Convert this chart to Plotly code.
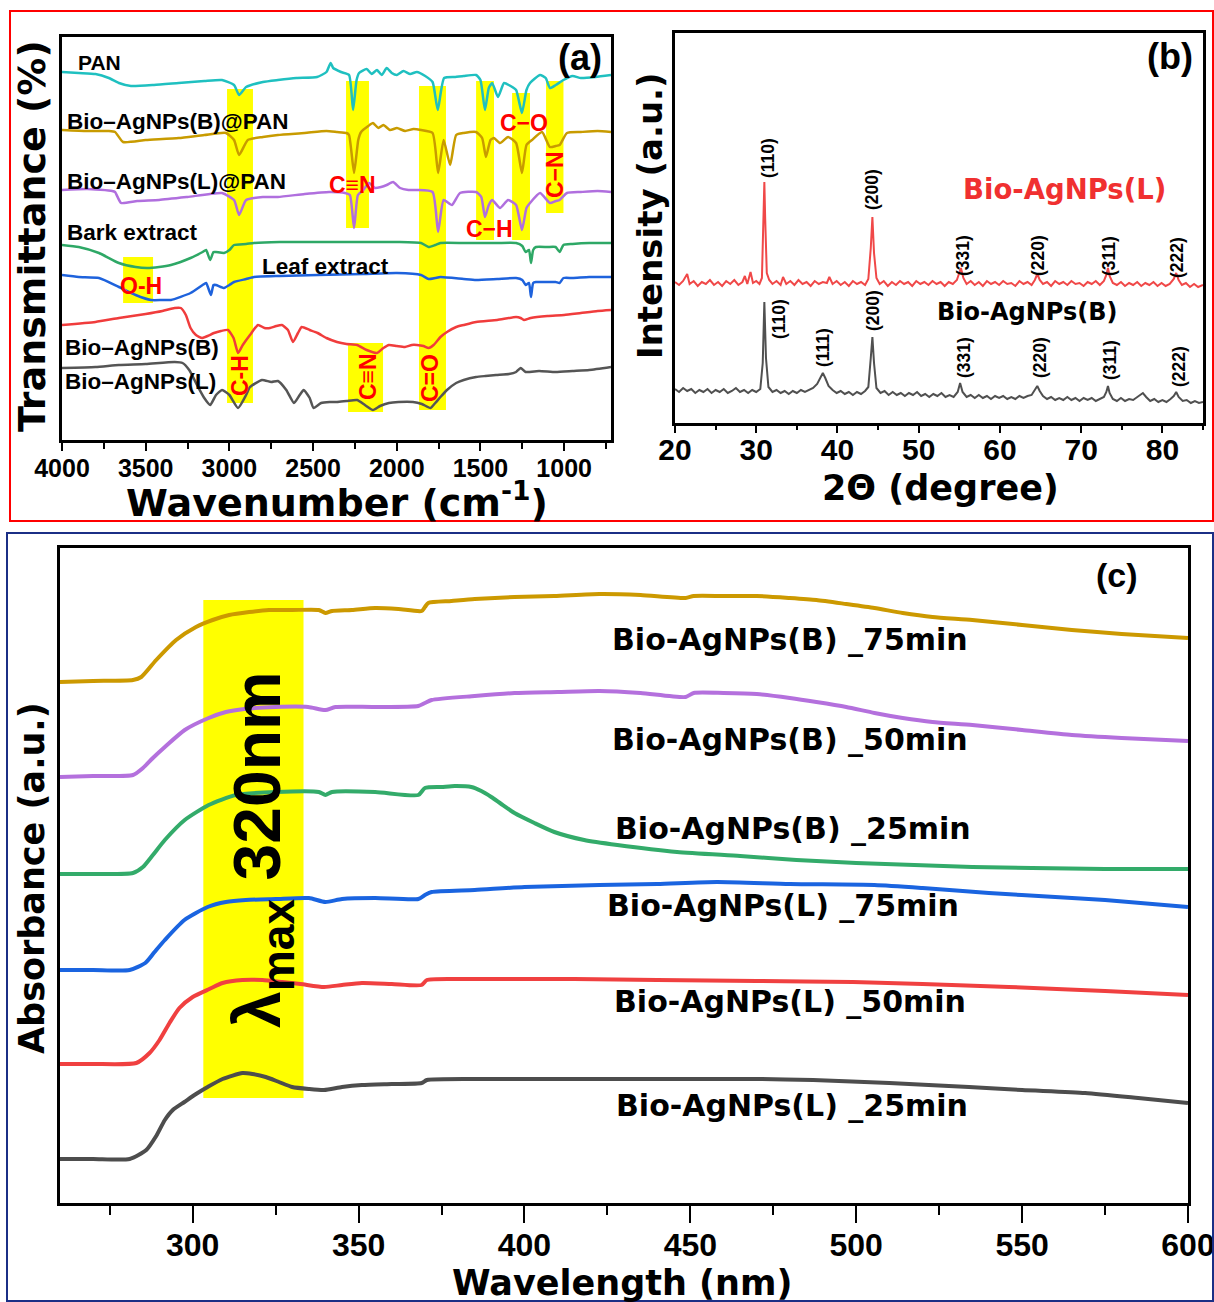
import plotly.graph_objects as go

FONT = "Liberation Sans, Arial, sans-serif"
WIDE = "DejaVu Sans, Liberation Sans, sans-serif"
W, H = 1214, 1302

# ---------------- Panel (a): FTIR (offset transmittance, a.u.) ----------------
pan_wn = [4000, 3900, 3800, 3720, 3660, 3588, 3450, 3303, 3150, 3044, 2972, 2942, 2900, 2800, 2710, 2600,
          2476, 2420, 2395, 2380, 2333, 2285, 2261, 2240, 2225, 2180, 2150, 2118, 2090, 2060, 2030, 1999,
          1960, 1920, 1880, 1830, 1786, 1755, 1717, 1650, 1600, 1526, 1500, 1473, 1450, 1430, 1395, 1359,
          1320, 1287, 1252, 1225, 1204, 1144, 1110, 1085, 1050, 1004, 950, 900, 813, 720]
pan_t = [368, 367, 366, 362, 357, 354, 355, 357, 359, 360, 355, 345, 353, 358, 360, 362,
         363, 368, 377, 372, 368, 365, 330, 360, 367, 371, 366, 370, 365, 372, 367, 365,
         369, 366, 368, 364, 358, 330, 362, 363, 364, 365, 360, 330, 352, 357, 343, 357,
         354, 350, 327, 350, 357, 365, 362, 352, 355, 360, 364, 362, 363, 365]

bpan_wn = [4000, 3850, 3720, 3683, 3635, 3500, 3303, 3150, 3020, 2972, 2942, 2890, 2800, 2710, 2550, 2420,
           2357, 2300, 2285, 2255, 2230, 2213, 2170, 2142, 2110, 2080, 2040, 1999, 1950, 1900, 1855, 1786,
           1753, 1720, 1681, 1645, 1600, 1526, 1490, 1467, 1440, 1419, 1383, 1335, 1287, 1252, 1225, 1192,
           1132, 1085, 1050, 1027, 983, 900, 800, 720]
bpan_t = [310, 309, 309, 308, 298, 300, 302, 305, 307, 300, 285, 300, 303, 305, 307, 309,
          308, 307, 305, 267, 300, 308, 314, 317, 312, 315, 310, 312, 309, 311, 310, 307,
          267, 300, 275, 305, 307, 308, 302, 283, 300, 302, 297, 303, 297, 267, 295, 300,
          308, 293, 294, 295, 307, 308, 309, 308]

lpan_wn = [4000, 3850, 3700, 3683, 3647, 3550, 3420, 3250, 3044, 2972, 2942, 2900, 2800, 2710, 2550, 2404,
           2309, 2280, 2255, 2232, 2200, 2165, 2130, 2094, 2060, 2022, 1980, 1930, 1880, 1786, 1753, 1720,
           1670, 1622, 1526, 1495, 1473, 1450, 1430, 1383, 1335, 1287, 1252, 1225, 1204, 1144, 1085, 1050,
           1027, 983, 900, 800, 720]
lpan_t = [250, 251, 249, 248, 237, 239, 240, 243, 247, 240, 225, 240, 243, 243, 246, 248,
          247, 245, 212, 245, 250, 257, 252, 253, 255, 258, 252, 250, 250, 248, 208, 240,
          235, 247, 248, 243, 223, 235, 240, 232, 240, 235, 210, 232, 237, 247, 237, 239,
          240, 247, 248, 249, 248]

bark_wn = [4000, 3900, 3779, 3660, 3560, 3492, 3420, 3349, 3232, 3160, 3139, 3115, 3095, 3080, 3032, 3000,
           2972, 2900, 2853, 2700, 2473, 2200, 1999, 1855, 1810, 1770, 1739, 1600, 1526, 1400, 1287, 1250,
           1230, 1210, 1198, 1185, 1168, 1100, 1051, 1027, 1004, 950, 850, 720]
bark_t = [195, 193, 187, 177, 173, 172, 173, 175, 182, 188, 190, 180, 188, 188, 187, 190,
          195, 196, 197, 198, 198, 198, 198, 197, 193, 195, 197, 197, 197, 197, 197, 194,
          188, 190, 177, 190, 193, 193, 193, 188, 195, 196, 197, 197]

leaf_wn = [4000, 3900, 3779, 3660, 3560, 3469, 3400, 3349, 3232, 3160, 3139, 3110, 3095, 3080, 3032, 3000,
           2972, 2900, 2853, 2700, 2473, 2200, 1999, 1855, 1810, 1770, 1739, 1600, 1526, 1400, 1287, 1250,
           1230, 1210, 1198, 1185, 1168, 1100, 1051, 1027, 1004, 950, 850, 720]
leaf_t = [165, 163, 162, 153, 145, 140, 140, 140, 147, 155, 157, 145, 155, 155, 152, 155,
          158, 161, 163, 164, 165, 166, 167, 165, 161, 162, 163, 161, 160, 161, 162, 160,
          155, 157, 143, 157, 158, 158, 158, 157, 162, 162, 163, 163]

agb_wn = [4000, 3800, 3660, 3500, 3400, 3327, 3290, 3260, 3232, 3200, 3163, 3130, 3092, 3050, 3008, 2975,
          2948, 2920, 2877, 2829, 2790, 2757, 2720, 2686, 2650, 2620, 2590, 2568, 2520, 2473, 2420, 2357,
          2300, 2237, 2180, 2118, 2080, 2047, 2000, 1951, 1910, 1880, 1840, 1810, 1780, 1739, 1700, 1645,
          1600, 1526, 1400, 1287, 1260, 1240, 1200, 1100, 1000, 900, 800, 720]
agb_t = [115, 118, 122, 126, 129, 132, 132, 125, 112, 105, 102, 104, 107, 109, 110, 102,
         87, 95, 105, 115, 112, 112, 114, 115, 110, 98, 107, 113, 110, 107, 102, 98,
         96, 95, 90, 87, 92, 95, 94, 93, 95, 95, 94, 92, 95, 103, 108, 113,
         115, 118, 120, 123, 122, 120, 122, 124, 125, 127, 129, 130]

agl_wn = [4000, 3800, 3660, 3500, 3327, 3280, 3240, 3187, 3150, 3115, 3080, 3044, 3000, 2948, 2900, 2877,
          2805, 2750, 2710, 2660, 2614, 2580, 2556, 2520, 2497, 2452, 2400, 2357, 2300, 2237, 2190, 2142,
          2100, 2047, 1990, 1903, 1850, 1798, 1770, 1739, 1700, 1645, 1600, 1526, 1470, 1407, 1330, 1287,
          1260, 1230, 1150, 1051, 950, 850, 720]
agl_t = [72, 73, 75, 76, 78, 77, 70, 53, 42, 35, 45, 50, 45, 32, 45, 53,
         60, 58, 59, 50, 37, 45, 50, 42, 32, 37, 38, 38, 39, 40, 35, 30,
         34, 37, 38, 38, 36, 32, 37, 43, 50, 57, 60, 63, 64, 65, 66, 68,
         72, 68, 69, 68, 69, 70, 73]

# highlighted bands (wavenumber from, to, offset from, to)
band_wn0 = [3014, 2303, 1867, 1526, 1311, 1108, 3635, 2291]
band_wn1 = [2859, 2166, 1706, 1419, 1204, 1004, 3456, 2082]
band_t0 = [37, 212, 30, 200, 200, 227, 137, 28]
band_t1 = [351, 359, 354, 359, 347, 359, 183, 97]

# ---------------- Panel (b): XRD ----------------
xrd_l_2t = [20, 20.5, 21, 21.5, 21.8, 22.3, 22.8, 23.3, 23.8, 24.3, 24.8, 25.3, 25.8, 26.3, 26.8, 27.3,
            27.8, 28.3, 28.6, 28.9, 29.3, 29.6, 30.0, 30.4, 30.7, 30.9, 31.0, 31.1, 31.3, 31.6, 32.0, 32.5,
            33.0, 33.3, 33.7, 34.2, 34.7, 35.2, 35.7, 36.2, 36.7, 37.2, 37.7, 38.2, 38.7, 39.0, 39.4, 39.9,
            40.4, 40.9, 41.4, 41.9, 42.4, 42.9, 43.4, 43.8, 44.1, 44.3, 44.5, 44.8, 45.2, 45.7, 46.2, 46.7,
            47.2, 47.7, 48.2, 48.7, 49.2, 49.7, 50.2, 50.7, 51.2, 51.7, 52.2, 52.7, 53.2, 53.7, 54.2, 54.7,
            55.0, 55.2, 55.5, 55.9, 56.4, 56.9, 57.4, 57.9, 58.4, 58.9, 59.4, 59.9, 60.4, 60.9, 61.4, 61.9,
            62.4, 62.9, 63.4, 63.9, 64.3, 64.6, 64.9, 65.3, 65.8, 66.3, 66.8, 67.3, 67.8, 68.3, 68.8, 69.3,
            69.8, 70.3, 70.8, 71.3, 71.8, 72.3, 72.8, 73.1, 73.3, 73.5, 73.9, 74.4, 74.9, 75.4, 75.9, 76.4,
            76.9, 77.4, 77.9, 78.4, 78.9, 79.4, 79.9, 80.4, 80.9, 81.4, 81.7, 82.0, 82.4, 82.9, 83.4, 83.9,
            84.4, 85.0]
xrd_l_i = [141, 138, 142, 149, 139, 142, 137, 141, 139, 143, 138, 141, 137, 142, 139, 143,
           138, 141, 147, 139, 151, 140, 142, 139, 145, 200, 241, 205, 150, 143, 139, 142,
           138, 146, 139, 142, 138, 143, 139, 141, 137, 142, 139, 141, 140, 146, 139, 142,
           138, 141, 137, 142, 139, 141, 138, 144, 175, 206, 170, 145, 139, 142, 137, 141,
           138, 142, 139, 141, 137, 142, 139, 141, 138, 142, 139, 141, 137, 141, 139, 143,
           150, 155, 145, 139, 142, 138, 141, 137, 142, 139, 141, 138, 142, 139, 140, 137,
           142, 139, 141, 138, 143, 149, 143, 139, 141, 137, 142, 139, 141, 138, 142, 139,
           140, 137, 141, 139, 142, 138, 142, 148, 155, 147, 140, 138, 141, 137, 140, 138,
           141, 137, 140, 138, 141, 137, 140, 137, 139, 144, 150, 143, 138, 140, 136, 139,
           136, 138]

xrd_b_2t = [20, 20.5, 21, 21.5, 22, 22.5, 23, 23.5, 24, 24.5, 25, 25.5, 26, 26.5, 27, 27.5,
            28, 28.5, 29, 29.5, 30, 30.5, 30.8, 31.0, 31.2, 31.5, 32.0, 32.5, 33.0, 33.5, 34.0, 34.5,
            35.0, 35.5, 36.0, 36.5, 37.0, 37.5, 37.9, 38.2, 38.5, 38.9, 39.4, 39.9, 40.4, 40.9, 41.4, 41.9,
            42.4, 42.9, 43.4, 43.8, 44.1, 44.3, 44.5, 44.8, 45.3, 45.8, 46.3, 46.8, 47.3, 47.8, 48.3, 48.8,
            49.3, 49.8, 50.3, 50.8, 51.3, 51.8, 52.3, 52.8, 53.3, 53.8, 54.3, 54.8, 55.1, 55.4, 55.9, 56.4,
            56.9, 57.4, 57.9, 58.4, 58.9, 59.4, 59.9, 60.4, 60.9, 61.4, 61.9, 62.4, 62.9, 63.4, 63.9, 64.3,
            64.6, 64.9, 65.3, 65.8, 66.3, 66.8, 67.3, 67.8, 68.3, 68.8, 69.3, 69.8, 70.3, 70.8, 71.3, 71.8,
            72.3, 72.8, 73.1, 73.3, 73.5, 73.9, 74.4, 74.9, 75.4, 75.9, 76.4, 76.9, 77.3, 77.6, 78.0, 78.5,
            79.0, 79.5, 80.0, 80.5, 81.0, 81.4, 81.7, 82.0, 82.5, 83.0, 83.5, 84.0, 84.5, 85.0]
xrd_b_i = [34, 31, 35, 32, 34, 30, 33, 31, 34, 30, 33, 31, 34, 30, 32, 35,
           31, 33, 30, 33, 31, 34, 60, 121, 65, 36, 31, 33, 30, 32, 29, 32,
           30, 33, 31, 33, 35, 39, 46, 50, 45, 37, 33, 30, 32, 29, 31, 28,
           31, 29, 32, 36, 65, 86, 60, 35, 30, 32, 28, 31, 28, 30, 27, 30,
           28, 31, 27, 29, 26, 29, 27, 30, 26, 28, 26, 31, 40, 31, 26, 28,
           25, 28, 25, 27, 24, 27, 25, 27, 24, 26, 24, 27, 25, 27, 28, 33,
           37, 32, 27, 24, 26, 23, 25, 23, 26, 23, 25, 22, 25, 23, 25, 22,
           24, 26, 31, 37, 30, 24, 22, 25, 22, 24, 23, 26, 29, 30, 26, 22,
           24, 21, 23, 21, 24, 27, 31, 26, 22, 23, 20, 22, 20, 21]

hkl_l = ["(110)", "(200)", "(331)", "(220)", "(311)", "(222)"]
hkl_b = ["(110)", "(111)", "(200)", "(331)", "(220)", "(311)", "(222)"]

# ---------------- Panel (c): UV-Vis (offset absorbance, a.u.) ----------------
b75_wl = [260, 270, 282, 284.5, 289, 295, 301, 306, 311, 317, 323, 330, 338, 340, 342, 348, 355, 362, 369,
          370, 371, 378, 385, 397, 409, 422.6, 435, 448.6, 451, 460, 470, 480, 488, 497, 505.5, 514, 523,
          535, 550, 565, 580, 600]
b75_a = [521, 522, 523, 526, 543, 563, 576, 583, 588, 591, 593, 593, 593, 590, 592, 593, 595, 594, 592,
         596, 600, 602, 604, 606, 607, 609, 608, 605, 607, 607, 607, 605, 603, 599, 595, 590, 586,
         583, 578, 573, 569, 565]

b50_wl = [260, 270, 282, 285, 288, 291.6, 297.6, 304.8, 310, 315.6, 325, 334.8, 340, 343, 355, 368, 370,
          372, 385, 397, 410, 422.6, 435, 448.6, 451, 460, 470, 480, 488, 497, 505.5, 514, 523, 535, 550,
          565, 580, 600]
b50_a = [426, 427, 428, 435, 445, 456, 473, 485, 491, 494, 496, 496, 493, 496, 496, 497, 500,
         503, 507, 510, 511, 512, 510, 506, 510, 510, 509, 505, 501, 496, 490, 485, 481, 478, 473,
         468, 465, 462]

b25_wl = [260, 270, 282, 285, 288, 291.6, 297.6, 304.8, 313, 325, 338, 340, 342, 355, 368, 370, 375, 379,
          384, 387, 390, 393, 397, 403, 409, 418, 428, 446, 465, 482, 500, 517.5, 535, 553, 575, 600]
b25_a = [329, 329, 330, 336, 348, 363, 383, 398, 408, 411, 411, 408, 411, 411, 408, 415, 416, 417,
         416, 412, 406, 399, 390, 380, 371, 363, 358, 351, 347, 343, 340, 338, 336, 335, 334, 334]

l75_wl = [260, 270, 281, 285.7, 288.5, 291.6, 297.5, 304.5, 310, 316, 325, 335, 340, 345, 355, 368, 370,
          372, 385, 400, 422.6, 440, 458, 480, 505.5, 520, 540, 560, 575, 600]
l75_a = [233, 233, 233, 240, 251, 263, 283, 296, 301, 303, 304, 305, 301, 304, 305, 304, 308,
         311, 313, 316, 318, 319, 321, 319, 318, 315, 310, 306, 303, 296]

l50_wl = [260, 270, 283, 287, 290, 293, 296, 300, 305, 309, 315, 321, 327, 332.5, 339.6, 345, 351, 360,
          369, 370.6, 380, 393.6, 415, 440, 470, 499, 520, 546, 575, 600]
l50_a = [139, 139, 140, 150, 163, 180, 195, 206, 214, 220, 223, 223, 221, 219, 216, 218, 220, 219,
         218, 223, 224, 224, 224, 223, 222, 221, 219, 216, 212, 208]

l25_wl = [260, 270, 281, 286, 289, 291.6, 294, 297.5, 301, 304.5, 309, 315, 318, 322, 326, 330, 335,
          339.6, 345, 351, 360, 369, 370.6, 385, 405, 430, 452, 470, 487, 510, 534, 550, 569, 585, 600]
l25_a = [44, 44, 44, 53, 67, 83, 93, 101, 109, 116, 124, 130, 129, 126, 121, 116, 114,
         113, 116, 118, 119, 120, 123, 124, 124, 124, 124, 124, 123, 120, 116, 113, 110, 105, 100]

uv_names = ["Bio-AgNPs(B) _75min", "Bio-AgNPs(B) _50min", "Bio-AgNPs(B) _25min",
            "Bio-AgNPs(L) _75min", "Bio-AgNPs(L) _50min", "Bio-AgNPs(L) _25min"]

# ---------------- helpers ----------------
def PX(x):
    return x / W


def PY(y):
    return 1 - y / H


fig = go.Figure()

ftir = [
    (pan_wn, pan_t, "#1FC0C0", "PAN"),
    (bpan_wn, bpan_t, "#C89B00", "Bio–AgNPs(B)@PAN"),
    (lpan_wn, lpan_t, "#B06FDE", "Bio–AgNPs(L)@PAN"),
    (bark_wn, bark_t, "#2EA866", "Bark extract"),
    (leaf_wn, leaf_t, "#1E62DC", "Leaf extract"),
    (agb_wn, agb_t, "#F03C3C", "Bio–AgNPs(B)"),
    (agl_wn, agl_t, "#555555", "Bio–AgNPs(L)"),
]
for xs, ys, c, n in ftir:
    fig.add_trace(go.Scatter(x=xs, y=ys, mode="lines", name=n, xaxis="x", yaxis="y",
                             line=dict(color=c, width=2.5, shape="spline", smoothing=0.5),
                             showlegend=False))

fig.add_trace(go.Scatter(x=xrd_l_2t, y=xrd_l_i, mode="lines", xaxis="x2", yaxis="y2",
                         line=dict(color="#F04848", width=2), showlegend=False))
fig.add_trace(go.Scatter(x=xrd_b_2t, y=xrd_b_i, mode="lines", xaxis="x2", yaxis="y2",
                         line=dict(color="#505050", width=2), showlegend=False))

uv = [
    (b75_wl, b75_a, "#CC9900"),
    (b50_wl, b50_a, "#B470DD"),
    (b25_wl, b25_a, "#33AB6A"),
    (l75_wl, l75_a, "#1A64E0"),
    (l50_wl, l50_a, "#F04040"),
    (l25_wl, l25_a, "#4D4D4D"),
]
for (xs, ys, c), n in zip(uv, uv_names):
    fig.add_trace(go.Scatter(x=xs, y=ys, mode="lines", name=n, xaxis="x3", yaxis="y3",
                             line=dict(color=c, width=4, shape="spline", smoothing=0.6),
                             showlegend=False))

shapes = []
for a0, a1, b0, b1 in zip(band_wn0, band_wn1, band_t0, band_t1):
    shapes.append(dict(type="rect", xref="x", yref="y", x0=a0, x1=a1, y0=b0, y1=b1,
                       fillcolor="#FFFF00", line=dict(width=0), layer="below"))
shapes.append(dict(type="rect", xref="x3", yref="y3", x0=303.2, x1=333.4, y0=105, y1=603,
                   fillcolor="#FFFF00", line=dict(width=0), layer="below"))
shapes.append(dict(type="rect", xref="paper", yref="paper", x0=PX(10), x1=PX(1213), y0=PY(521), y1=PY(11),
                   line=dict(color="#FF0000", width=2), fillcolor="rgba(0,0,0,0)"))
shapes.append(dict(type="rect", xref="paper", yref="paper", x0=PX(7), x1=PX(1213), y0=PY(1301), y1=PY(533),
                   line=dict(color="#1B2F86", width=2), fillcolor="rgba(0,0,0,0)"))

ann = []


def T(text, x, y, size, color="black", angle=0, xanchor="center", family=FONT):
    ann.append(dict(text=text, x=PX(x), y=PY(y), xref="paper", yref="paper", showarrow=False,
                    textangle=angle, xanchor=xanchor, yanchor="middle",
                    font=dict(family=family, size=size, color=color, weight="bold")))


# panel (a) texts
T("PAN", 76, 62, 21, xanchor="left")
T("Bio–AgNPs(B)@PAN", 65, 122, 22.5, xanchor="left")
T("Bio–AgNPs(L)@PAN", 65, 182, 22.5, xanchor="left")
T("Bark extract", 65, 233, 22.5, xanchor="left")
T("Leaf extract", 260, 266, 22.5, xanchor="left")
T("Bio–AgNPs(B)", 63, 348, 22.5, xanchor="left")
T("Bio–AgNPs(L)", 63, 381, 22.5, xanchor="left")
RED = "#FF0000"
T("O-H", 141, 286, 23, RED)
T("C≡N", 352, 185, 23, RED)
T("C−O", 524, 123, 23, RED)
T("C−H", 489, 229, 23, RED)
T("C−N", 555, 175, 23, RED, angle=-90)
T("C-H", 240, 376, 23, RED, angle=-90)
T("C≡N", 368, 377, 23, RED, angle=-90)
T("C=O", 430, 378, 23, RED, angle=-90)
T("(a)", 580, 58, 36)
T("Transmittance (%)", 32, 236, 38, angle=-90, family=WIDE)
T("Wavenumber (cm<sup>-1</sup>)", 337, 500, 38, family=WIDE)

# panel (b) texts
lx = [768, 872, 963, 1038, 1109, 1177]
ly = [158, 190, 256, 256, 256, 258]
for t, x, y in zip(hkl_l, lx, ly):
    T(t, x, y, 17.5, angle=-90)
bx = [779, 823, 873, 964, 1040, 1110, 1179]
by = [319, 348, 311, 358, 358, 360, 367]
for t, x, y in zip(hkl_b, bx, by):
    T(t, x, y, 17.5, angle=-90)
T("Bio-AgNPs(L)", 1064, 189, 27.5, "#F03030", family=WIDE)
T("Bio-AgNPs(B)", 1027, 312, 24, family=WIDE)
T("(b)", 1170, 57, 36)
T("Intensity (a.u.)", 650, 215, 34, angle=-90, family=WIDE)
T("2Θ (degree)", 940, 488, 35, family=WIDE)

# panel (c) texts
for n, x, y in zip(uv_names, [790, 790, 793, 783, 790, 792], [640, 739, 828, 905, 1001, 1105]):
    T(n, x, y, 30, family=WIDE)
T("(c)", 1117, 575, 34)
T("λ<sub>max</sub> 320nm", 262, 850, 66, angle=-90)
T("Absorbance (a.u.)", 32, 878, 35, angle=-90, family=WIDE)
T("Wavelength (nm)", 622, 1283, 35, family=WIDE)

axis_common = dict(showline=True, linecolor="black", linewidth=3, mirror=True, showgrid=False,
                   zeroline=False, automargin=False)


def tickfont(s):
    return dict(family=FONT, size=s, color="black", weight="bold")


fig.update_layout(
    template="none",
    width=W, height=H, margin=dict(l=0, r=0, t=0, b=0, pad=0, autoexpand=False),
    paper_bgcolor="white", plot_bgcolor="white",
    showlegend=False,
    xaxis=dict(domain=[PX(62), PX(611)], range=[4000, 720], anchor="y", ticks="outside", ticklen=8,
               tickwidth=2, tickcolor="black", dtick=500, tick0=0, tickfont=tickfont(25),
               ticklabelstandoff=-4, ticklabeloverflow="allow",
               minor=dict(dtick=250, ticks="outside", ticklen=6, tickwidth=2, tickcolor="black"),
               **axis_common),
    yaxis=dict(domain=[PY(440), PY(37)], range=[0, 403], anchor="x", showticklabels=False, ticks="",
               **axis_common),
    xaxis2=dict(domain=[PX(675), PX(1203)], range=[20, 85], anchor="y2", ticks="outside", ticklen=7,
                tickwidth=2, tickcolor="black", dtick=10, tick0=0, tickfont=tickfont(30),
                ticklabelstandoff=-9, ticklabeloverflow="allow",
                minor=dict(dtick=5, ticks="outside", ticklen=4, tickwidth=2, tickcolor="black"),
                **axis_common),
    yaxis2=dict(domain=[PY(423), PY(33)], range=[0, 390], anchor="x2", showticklabels=False, ticks="",
                **axis_common),
    xaxis3=dict(domain=[PX(60), PX(1188)], range=[260, 600.01], anchor="y3", ticks="outside", ticklen=17,
                tickwidth=2, tickcolor="black", dtick=50, tick0=0, tickfont=tickfont(32),
                ticklabelstandoff=-5, ticklabeloverflow="allow",
                minor=dict(dtick=25, ticks="outside", ticklen=9, tickwidth=2, tickcolor="black"),
                **axis_common),
    yaxis3=dict(domain=[PY(1203), PY(548)], range=[0, 655], anchor="x3", showticklabels=False, ticks="",
                **axis_common),
    shapes=shapes,
    annotations=ann,
)

fig.write_html("out.html", config={"displayModeBar": False},
               post_script="document.body.style.margin='0';document.body.style.padding='0';"
                           "document.documentElement.style.overflow='hidden';")
